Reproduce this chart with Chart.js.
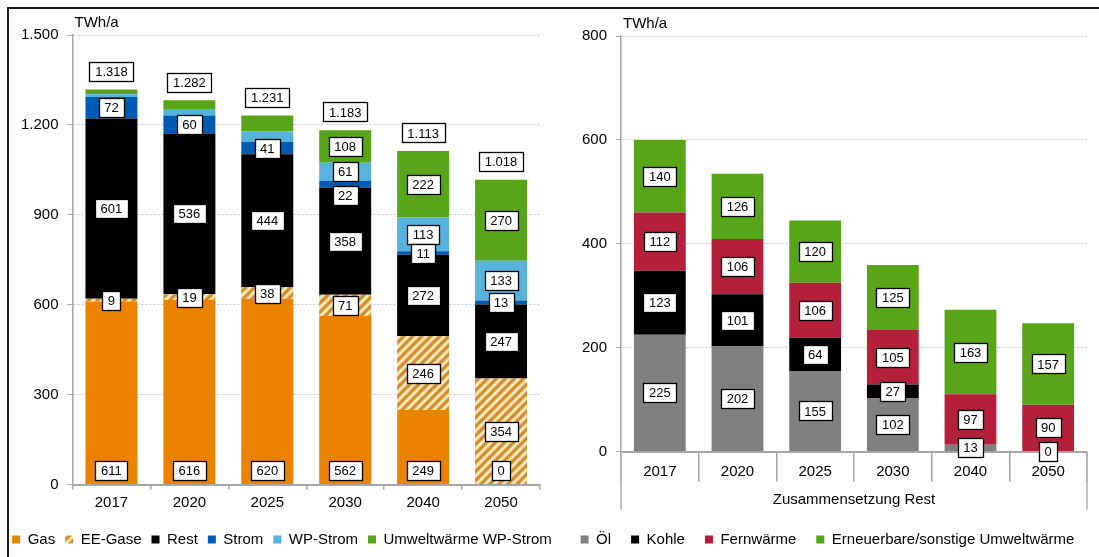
<!DOCTYPE html>
<html>
<head>
<meta charset="utf-8">
<script src="https://cdn.jsdelivr.net/npm/chart.js@4.4.0/dist/chart.umd.min.js"></script>
<style>
html, body { margin: 0; padding: 0; background: #fff; }
#frame { position: absolute; left: 7px; top: 7px; width: 1100px; height: 560px; border-top: 2px solid #1a1a1a; border-left: 2px solid #1a1a1a; }
#left { position: absolute; left: 2px; top: 0; }
#right { position: absolute; left: 556px; top: 0; }
</style>
</head>
<body>
<div id="frame"></div>
<canvas id="left" width="560" height="557"></canvas>
<canvas id="right" width="543" height="557"></canvas>
<script>
// Endenergie Wärme, links gesamt, rechts Aufteilung "Rest"
var years = ['2017', '2020', '2025', '2030', '2040', '2050'];

var gas = [611, 616, 620, 562, 249, 0];
var eeGase = [9, 19, 38, 71, 246, 354];
var rest = [601, 536, 444, 358, 272, 247];
var strom = [72, 60, 41, 22, 11, 13];
var wpStrom = [9, 22, 36, 61, 113, 133];
var umweltWP = [16, 29, 52, 108, 222, 270];
var totals = [1318, 1282, 1231, 1183, 1113, 1018];
var leftTicks = [0, 300, 600, 900, 1200, 1500];

var oel = [225, 202, 155, 102, 13, 0];
var kohle = [123, 101, 64, 27, 0, 0];
var fernwaerme = [112, 106, 106, 105, 97, 90];
var erneuerbare = [140, 126, 120, 125, 163, 157];
var rightTicks = [0, 200, 400, 600, 800];

// welche Werte eine Beschriftung haben
var wpStromShown = [false, false, false, true, true, true];
var umweltShown = [false, false, false, true, true, true];
var kohleShown = [true, true, true, true, false, false];

var unit = 'TWh/a';
var restTitle = 'Zusammensetzung Rest';

var FONT = '"Liberation Sans", Arial, sans-serif';
Chart.defaults.font.family = FONT;
Chart.defaults.font.size = 15;
Chart.defaults.color = '#000';

var fmt = function(v) {
	return String(v).replace(/\B(?=(\d{3})+(?!\d))/g, '.');
};

var makeHatch = function() {
	var n = 9;
	var c = document.createElement('canvas');
	c.width = n;
	c.height = n;
	var g = c.getContext('2d');
	g.fillStyle = '#fdf4e6';
	g.fillRect(0, 0, n, n);
	var stripes = function(color, width) {
		g.strokeStyle = color;
		g.lineWidth = width;
		g.beginPath();
		g.moveTo(-2, n + 2); g.lineTo(n + 2, -2);
		g.moveTo(-2, 2); g.lineTo(2, -2);
		g.moveTo(n - 2, n + 2); g.lineTo(n + 2, n - 2);
		g.stroke();
	};
	stripes('#f2c86e', 5);
	stripes('#cd8a33', 2.6);
	return g.createPattern(c, 'repeat');
};

var drawBox = function(ctx, text, x, y) {
	ctx.save();
	ctx.font = '13px ' + FONT;
	var w = Math.round(ctx.measureText(text).width + 11);
	var h = 19;
	var bx = Math.round(x - w / 2) + 0.5;
	var by = Math.round(y - h / 2) + 0.5;
	ctx.fillStyle = '#fff';
	ctx.fillRect(bx, by, w, h);
	ctx.strokeStyle = '#000';
	ctx.lineWidth = 1.3;
	ctx.strokeRect(bx, by, w, h);
	ctx.fillStyle = '#000';
	ctx.textAlign = 'center';
	ctx.textBaseline = 'middle';
	ctx.fillText(text, x, y + 1);
	ctx.restore();
};

// Beschriftungen in Kästchen, Gesamtsummen über den Säulen
var boxLabels = function(sums) {
	return {
		id: 'boxLabels',
		afterDraw: function(chart) {
			var ctx = chart.ctx;
			var a = chart.chartArea;
			var sets = chart.data.datasets;
			chart.getDatasetMeta(0).data.forEach(function(e0, j) {
				var prevY = null;
				// von oben nach unten, damit überlappende Kästchen nach unten ausweichen
				for (var i = sets.length - 1; i >= 0; i--) {
					var ds = sets[i];
					if (ds.shown && !ds.shown[j]) continue;
					var el = chart.getDatasetMeta(i).data[j];
					var y = ds.atBase ? el.base - 14 : (el.y + el.base) / 2;
					if (prevY !== null && y - prevY < 18) y = prevY + 24;
					drawBox(ctx, fmt(ds.data[j]), el.x, y);
					prevY = y;
				}
			});
			if (sums) {
				var first = chart.getDatasetMeta(0);
				var ys = chart.scales.y;
				sums.forEach(function(s, j) {
					drawBox(ctx, fmt(s), first.data[j].x, ys.getPixelForValue(s) - 18);
				});
			}
			ctx.save();
			ctx.font = '15px ' + FONT;
			ctx.fillStyle = '#000';
			ctx.textAlign = 'left';
			ctx.textBaseline = 'middle';
			ctx.fillText(unit, a.left + 2, a.top - 12);
			ctx.restore();
		}
	};
};

var restLines = {
	id: 'restLines',
	afterDraw: function(chart) {
		var ctx = chart.ctx;
		var a = chart.chartArea;
		ctx.save();
		ctx.strokeStyle = '#b0b0b0';
		ctx.lineWidth = 1.5;
		ctx.beginPath();
		ctx.moveTo(a.left, a.bottom);
		ctx.lineTo(a.left, a.bottom + 58);
		ctx.moveTo(a.right, a.bottom);
		ctx.lineTo(a.right, a.bottom + 58);
		ctx.stroke();
		ctx.restore();
	}
};

var bar = function(label, data, color, extra) {
	var ds = {
		label: label,
		data: data,
		backgroundColor: color,
		borderWidth: 0,
		yAxisID: 'y',
		barPercentage: 0.667,
		categoryPercentage: 1
	};
	for (var k in extra) ds[k] = extra[k];
	return ds;
};

var baseOptions = function(ticks, xTick, xPad, xHeight, yWidth, rightWidth, top, legendPad) {
	return {
		responsive: false,
		animation: false,
		layout: { padding: { top: top, left: 0, right: 0, bottom: 0 } },
		plugins: {
			tooltip: { enabled: false },
			legend: {
				position: 'bottom',
				labels: { boxWidth: 8, boxHeight: 8, padding: legendPad, color: '#000', font: { size: 15 } }
			}
		},
		scales: {
			x: {
				stacked: true,
				grid: { display: true, drawOnChartArea: false, drawTicks: true, tickLength: xTick, color: '#a6a6a6', lineWidth: 1.5, offset: true },
				border: { color: '#a6a6a6', width: 2, z: 1 },
				ticks: { padding: xPad, color: '#000', font: { size: 15 } },
				afterFit: function(s) { s.height = xHeight; }
			},
			y: {
				stacked: true,
				min: ticks[0],
				max: ticks[ticks.length - 1],
				ticks: { stepSize: ticks[1] - ticks[0], padding: 9, color: '#000', font: { size: 15 }, callback: function(v) { return fmt(v); } },
				grid: { color: '#c8c8c8', lineWidth: 1, tickLength: 5, tickColor: '#a6a6a6', tickBorderDash: [] },
				border: { color: '#a6a6a6', width: 1.5, dash: [2, 2] },
				afterFit: function(s) { s.width = yWidth; }
			},
			y2: {
				position: 'right',
				display: true,
				grid: { display: false },
				border: { display: false },
				ticks: { display: false },
				afterFit: function(s) { s.width = rightWidth; }
			}
		}
	};
};

var leftOptions = baseOptions(leftTicks, 5, 4, 37.5, 70.5, 22, 35, 10);
new Chart(document.getElementById('left'), {
	type: 'bar',
	data: {
		labels: years,
		datasets: [
			bar('Gas', gas, '#e98300', { atBase: true }),
			bar('EE-Gase', eeGase, makeHatch()),
			bar('Rest', rest, '#000000'),
			bar('Strom', strom, '#005bb5'),
			bar('WP-Strom', wpStrom, '#58b2de', { shown: wpStromShown }),
			bar('Umweltwärme WP-Strom', umweltWP, '#58a519', { shown: umweltShown })
		]
	},
	options: leftOptions,
	plugins: [boxLabels(totals)]
});

var rightOptions = baseOptions(rightTicks, 30, -19, 60.5, 65, 12, 36, 20);
rightOptions.scales.x.title = { display: true, text: restTitle, color: '#000', font: { size: 15 }, padding: { top: 0, bottom: 3.5 } };
new Chart(document.getElementById('right'), {
	type: 'bar',
	data: {
		labels: years,
		datasets: [
			bar('Öl', oel, '#808080'),
			bar('Kohle', kohle, '#000000', { shown: kohleShown }),
			bar('Fernwärme', fernwaerme, '#b41f3a'),
			bar('Erneuerbare/sonstige Umweltwärme', erneuerbare, '#58a519')
		]
	},
	options: rightOptions,
	plugins: [boxLabels(null), restLines]
});
</script>
</body>
</html>
